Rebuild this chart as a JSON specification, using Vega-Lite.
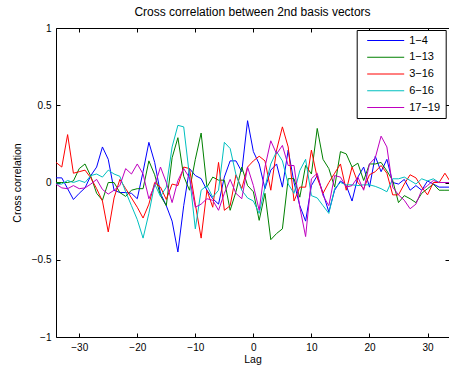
{
"$schema":"https://vega.github.io/schema/vega-lite/v6.json",
"width":393,"height":309,
"autosize":{"type":"none"},
"padding":{"left":56,"top":28,"right":0,"bottom":33},
"background":"white",
"title":{"text":"Cross correlation between 2nd basis vectors","fontSize":12,"font":"Liberation Sans","fontWeight":"normal","color":"black","anchor":"middle","baseline":"alphabetic","offset":10,"dy":14.5},
"config":{
 "view":{"stroke":null},
 "font":"Liberation Sans",
 "axis":{"grid":false,"domainColor":"black","tickColor":"black","labelColor":"black","titleColor":"black","labelFontSize":10,"titleFontSize":10.5,"titleFontWeight":"normal","tickSize":-4,"domainWidth":1,"tickWidth":1,"labelFont":"Liberation Sans","titleFont":"Liberation Sans"},
 "legend":{"orient":"none","legendX":300.7,"legendY":2,"strokeColor":"black","fillColor":"white","padding":5,"symbolType":"M0,0H9.25","symbolSize":64,"symbolStrokeWidth":1,"labelOffset":36.5,"labelFontSize":11,"labelFont":"Liberation Sans","labelColor":"black","rowPadding":4.75,"title":null}
},
"data":{"values":[
{"lag":-34,"s":"1−4","v":0.03},{"lag":-33,"s":"1−4","v":0.03},{"lag":-32,"s":"1−4","v":-0.04},{"lag":-31,"s":"1−4","v":-0.11},{"lag":-30,"s":"1−4","v":-0.07},{"lag":-29,"s":"1−4","v":-0.035},{"lag":-28,"s":"1−4","v":0.045},{"lag":-27,"s":"1−4","v":0.1},{"lag":-26,"s":"1−4","v":0.23},{"lag":-25,"s":"1−4","v":0.15},{"lag":-24,"s":"1−4","v":-0.05},{"lag":-23,"s":"1−4","v":-0.065},
{"lag":-22,"s":"1−4","v":-0.065},{"lag":-21,"s":"1−4","v":-0.07},{"lag":-20,"s":"1−4","v":-0.105},{"lag":-19,"s":"1−4","v":0.07},{"lag":-18,"s":"1−4","v":0.26},{"lag":-17,"s":"1−4","v":0.13},{"lag":-16,"s":"1−4","v":-0.07},{"lag":-15,"s":"1−4","v":-0.15},{"lag":-14,"s":"1−4","v":-0.25},{"lag":-13,"s":"1−4","v":-0.45},{"lag":-12,"s":"1−4","v":-0.15},{"lag":-11,"s":"1−4","v":0.09},
{"lag":-10,"s":"1−4","v":0.045},{"lag":-9,"s":"1−4","v":0.025},{"lag":-8,"s":"1−4","v":-0.05},{"lag":-7,"s":"1−4","v":-0.105},{"lag":-6,"s":"1−4","v":-0.14},{"lag":-5,"s":"1−4","v":0.035},{"lag":-4,"s":"1−4","v":0.14},{"lag":-3,"s":"1−4","v":0.14},{"lag":-2,"s":"1−4","v":0.07},{"lag":-1,"s":"1−4","v":0.4},
{"lag":0,"s":"1−4","v":0.2},{"lag":1,"s":"1−4","v":0.12},{"lag":2,"s":"1−4","v":-0.04},{"lag":3,"s":"1−4","v":0.08},{"lag":4,"s":"1−4","v":0.12},{"lag":5,"s":"1−4","v":-0.03},{"lag":6,"s":"1−4","v":0.21},{"lag":7,"s":"1−4","v":0.0},{"lag":8,"s":"1−4","v":-0.15},{"lag":9,"s":"1−4","v":-0.25},{"lag":10,"s":"1−4","v":-0.02},{"lag":11,"s":"1−4","v":0.045},
{"lag":12,"s":"1−4","v":-0.07},{"lag":13,"s":"1−4","v":-0.19},{"lag":14,"s":"1−4","v":-0.05},{"lag":15,"s":"1−4","v":0.01},{"lag":16,"s":"1−4","v":-0.02},{"lag":17,"s":"1−4","v":-0.12},{"lag":18,"s":"1−4","v":0.035},{"lag":19,"s":"1−4","v":0.1},{"lag":20,"s":"1−4","v":-0.03},{"lag":21,"s":"1−4","v":0.17},{"lag":22,"s":"1−4","v":0.07},{"lag":23,"s":"1−4","v":0.15},
{"lag":24,"s":"1−4","v":0.0},{"lag":25,"s":"1−4","v":-0.01},{"lag":26,"s":"1−4","v":0.02},{"lag":27,"s":"1−4","v":-0.05},{"lag":28,"s":"1−4","v":-0.02},{"lag":29,"s":"1−4","v":-0.05},{"lag":30,"s":"1−4","v":0.01},{"lag":31,"s":"1−4","v":-0.01},{"lag":32,"s":"1−4","v":-0.03},{"lag":33,"s":"1−4","v":-0.03},{"lag":34,"s":"1−4","v":-0.03},

{"lag":-34,"s":"1−13","v":0.0},{"lag":-33,"s":"1−13","v":0.0},{"lag":-32,"s":"1−13","v":0.0},{"lag":-31,"s":"1−13","v":0.01},{"lag":-30,"s":"1−13","v":0.09},{"lag":-29,"s":"1−13","v":0.12},{"lag":-28,"s":"1−13","v":0.04},{"lag":-27,"s":"1−13","v":-0.07},{"lag":-26,"s":"1−13","v":-0.115},{"lag":-25,"s":"1−13","v":0.0},{"lag":-24,"s":"1−13","v":0.0},{"lag":-23,"s":"1−13","v":-0.065},
{"lag":-22,"s":"1−13","v":-0.09},{"lag":-21,"s":"1−13","v":-0.05},{"lag":-20,"s":"1−13","v":-0.04},{"lag":-19,"s":"1−13","v":-0.04},{"lag":-18,"s":"1−13","v":0.14},{"lag":-17,"s":"1−13","v":0.05},{"lag":-16,"s":"1−13","v":-0.085},{"lag":-15,"s":"1−13","v":-0.15},{"lag":-14,"s":"1−13","v":0.16},{"lag":-13,"s":"1−13","v":0.29},{"lag":-12,"s":"1−13","v":0.04},{"lag":-11,"s":"1−13","v":-0.05},
{"lag":-10,"s":"1−13","v":0.15},{"lag":-9,"s":"1−13","v":0.32},{"lag":-8,"s":"1−13","v":-0.03},{"lag":-7,"s":"1−13","v":0.035},{"lag":-6,"s":"1−13","v":0.015},{"lag":-5,"s":"1−13","v":0.015},{"lag":-4,"s":"1−13","v":-0.18},{"lag":-3,"s":"1−13","v":-0.06},{"lag":-2,"s":"1−13","v":0.1},{"lag":-1,"s":"1−13","v":-0.02},
{"lag":0,"s":"1−13","v":-0.06},{"lag":1,"s":"1−13","v":-0.245},{"lag":2,"s":"1−13","v":-0.07},{"lag":3,"s":"1−13","v":-0.37},{"lag":4,"s":"1−13","v":-0.33},{"lag":5,"s":"1−13","v":-0.3},{"lag":6,"s":"1−13","v":0.025},{"lag":7,"s":"1−13","v":0.025},{"lag":8,"s":"1−13","v":-0.095},{"lag":9,"s":"1−13","v":0.11},{"lag":10,"s":"1−13","v":0.055},{"lag":11,"s":"1−13","v":0.35},
{"lag":12,"s":"1−13","v":0.15},{"lag":13,"s":"1−13","v":0.09},{"lag":14,"s":"1−13","v":-0.03},{"lag":15,"s":"1−13","v":0.2},{"lag":16,"s":"1−13","v":0.185},{"lag":17,"s":"1−13","v":0.1},{"lag":18,"s":"1−13","v":0.125},{"lag":19,"s":"1−13","v":0.013},{"lag":20,"s":"1−13","v":0.12},{"lag":21,"s":"1−13","v":0.12},{"lag":22,"s":"1−13","v":0.13},{"lag":23,"s":"1−13","v":0.075},
{"lag":24,"s":"1−13","v":0.013},{"lag":25,"s":"1−13","v":-0.13},{"lag":26,"s":"1−13","v":-0.085},{"lag":27,"s":"1−13","v":-0.105},{"lag":28,"s":"1−13","v":-0.13},{"lag":29,"s":"1−13","v":-0.07},{"lag":30,"s":"1−13","v":-0.04},{"lag":31,"s":"1−13","v":-0.01},{"lag":32,"s":"1−13","v":-0.05},{"lag":33,"s":"1−13","v":-0.05},{"lag":34,"s":"1−13","v":-0.05},

{"lag":-34,"s":"3−16","v":0.13},{"lag":-33,"s":"3−16","v":0.1},{"lag":-32,"s":"3−16","v":0.31},{"lag":-31,"s":"3−16","v":0.06},{"lag":-30,"s":"3−16","v":0.07},{"lag":-29,"s":"3−16","v":0.08},{"lag":-28,"s":"3−16","v":0.03},{"lag":-27,"s":"3−16","v":-0.04},{"lag":-26,"s":"3−16","v":-0.12},{"lag":-25,"s":"3−16","v":-0.32},{"lag":-24,"s":"3−16","v":-0.1},{"lag":-23,"s":"3−16","v":0.02},
{"lag":-22,"s":"3−16","v":-0.04},{"lag":-21,"s":"3−16","v":-0.1},{"lag":-20,"s":"3−16","v":-0.16},{"lag":-19,"s":"3−16","v":-0.23},{"lag":-18,"s":"3−16","v":-0.14},{"lag":-17,"s":"3−16","v":0.0},{"lag":-16,"s":"3−16","v":-0.03},{"lag":-15,"s":"3−16","v":-0.11},{"lag":-14,"s":"3−16","v":-0.01},{"lag":-13,"s":"3−16","v":-0.02},{"lag":-12,"s":"3−16","v":0.1},{"lag":-11,"s":"3−16","v":0.09},
{"lag":-10,"s":"3−16","v":-0.14},{"lag":-9,"s":"3−16","v":-0.36},{"lag":-8,"s":"3−16","v":-0.05},{"lag":-7,"s":"3−16","v":-0.16},{"lag":-6,"s":"3−16","v":0.13},{"lag":-5,"s":"3−16","v":-0.18},{"lag":-4,"s":"3−16","v":-0.15},{"lag":-3,"s":"3−16","v":0.05},{"lag":-2,"s":"3−16","v":-0.04},{"lag":-1,"s":"3−16","v":0.1},
{"lag":0,"s":"3−16","v":0.14},{"lag":1,"s":"3−16","v":0.17},{"lag":2,"s":"3−16","v":0.14},{"lag":3,"s":"3−16","v":-0.05},{"lag":4,"s":"3−16","v":0.21},{"lag":5,"s":"3−16","v":0.36},{"lag":6,"s":"3−16","v":0.23},{"lag":7,"s":"3−16","v":-0.12},{"lag":8,"s":"3−16","v":-0.03},{"lag":9,"s":"3−16","v":-0.03},{"lag":10,"s":"3−16","v":0.21},{"lag":11,"s":"3−16","v":0.03},
{"lag":12,"s":"3−16","v":-0.07},{"lag":13,"s":"3−16","v":0.0},{"lag":14,"s":"3−16","v":0.06},{"lag":15,"s":"3−16","v":0.12},{"lag":16,"s":"3−16","v":-0.05},{"lag":17,"s":"3−16","v":0.1},{"lag":18,"s":"3−16","v":0.0},{"lag":19,"s":"3−16","v":-0.04},{"lag":20,"s":"3−16","v":0.05},{"lag":21,"s":"3−16","v":0.07},{"lag":22,"s":"3−16","v":0.11},{"lag":23,"s":"3−16","v":0.06},
{"lag":24,"s":"3−16","v":-0.08},{"lag":25,"s":"3−16","v":-0.08},{"lag":26,"s":"3−16","v":-0.01},{"lag":27,"s":"3−16","v":0.05},{"lag":28,"s":"3−16","v":0.03},{"lag":29,"s":"3−16","v":-0.03},{"lag":30,"s":"3−16","v":-0.08},{"lag":31,"s":"3−16","v":0.0},{"lag":32,"s":"3−16","v":0.0},{"lag":33,"s":"3−16","v":0.06},{"lag":34,"s":"3−16","v":0.0},

{"lag":-34,"s":"6−16","v":-0.01},{"lag":-33,"s":"6−16","v":-0.01},{"lag":-32,"s":"6−16","v":0.013},{"lag":-31,"s":"6−16","v":0.0},{"lag":-30,"s":"6−16","v":0.013},{"lag":-29,"s":"6−16","v":0.0},{"lag":-28,"s":"6−16","v":0.045},{"lag":-27,"s":"6−16","v":0.055},{"lag":-26,"s":"6−16","v":0.035},{"lag":-25,"s":"6−16","v":0.08},{"lag":-24,"s":"6−16","v":0.055},{"lag":-23,"s":"6−16","v":0.04},
{"lag":-22,"s":"6−16","v":-0.06},{"lag":-21,"s":"6−16","v":-0.15},{"lag":-20,"s":"6−16","v":-0.24},{"lag":-19,"s":"6−16","v":-0.36},{"lag":-18,"s":"6−16","v":-0.2},{"lag":-17,"s":"6−16","v":-0.01},{"lag":-16,"s":"6−16","v":-0.09},{"lag":-15,"s":"6−16","v":-0.03},{"lag":-14,"s":"6−16","v":0.23},{"lag":-13,"s":"6−16","v":0.37},{"lag":-12,"s":"6−16","v":0.36},{"lag":-11,"s":"6−16","v":0.04},
{"lag":-10,"s":"6−16","v":-0.3},{"lag":-9,"s":"6−16","v":-0.05},{"lag":-8,"s":"6−16","v":-0.02},{"lag":-7,"s":"6−16","v":-0.095},{"lag":-6,"s":"6−16","v":-0.05},{"lag":-5,"s":"6−16","v":0.26},{"lag":-4,"s":"6−16","v":0.22},{"lag":-3,"s":"6−16","v":0.05},{"lag":-2,"s":"6−16","v":-0.05},{"lag":-1,"s":"6−16","v":-0.1},
{"lag":0,"s":"6−16","v":-0.12},{"lag":1,"s":"6−16","v":-0.2},{"lag":2,"s":"6−16","v":-0.03},{"lag":3,"s":"6−16","v":0.12},{"lag":4,"s":"6−16","v":0.2},{"lag":5,"s":"6−16","v":0.14},{"lag":6,"s":"6−16","v":-0.01},{"lag":7,"s":"6−16","v":-0.07},{"lag":8,"s":"6−16","v":0.077},{"lag":9,"s":"6−16","v":0.15},{"lag":10,"s":"6−16","v":-0.085},{"lag":11,"s":"6−16","v":-0.1},
{"lag":12,"s":"6−16","v":-0.15},{"lag":13,"s":"6−16","v":-0.2},{"lag":14,"s":"6−16","v":-0.04},{"lag":15,"s":"6−16","v":0.0},{"lag":16,"s":"6−16","v":-0.015},{"lag":17,"s":"6−16","v":-0.015},{"lag":18,"s":"6−16","v":-0.02},{"lag":19,"s":"6−16","v":-0.015},{"lag":20,"s":"6−16","v":-0.015},{"lag":21,"s":"6−16","v":-0.025},{"lag":22,"s":"6−16","v":-0.04},{"lag":23,"s":"6−16","v":-0.06},
{"lag":24,"s":"6−16","v":0.024},{"lag":25,"s":"6−16","v":0.024},{"lag":26,"s":"6−16","v":0.035},{"lag":27,"s":"6−16","v":0.013},{"lag":28,"s":"6−16","v":-0.01},{"lag":29,"s":"6−16","v":0.024},{"lag":30,"s":"6−16","v":0.01},{"lag":31,"s":"6−16","v":0.024},{"lag":32,"s":"6−16","v":0.0},{"lag":33,"s":"6−16","v":0.0},{"lag":34,"s":"6−16","v":0.0},

{"lag":-34,"s":"17−19","v":-0.01},{"lag":-33,"s":"17−19","v":-0.035},{"lag":-32,"s":"17−19","v":-0.04},{"lag":-31,"s":"17−19","v":-0.02},{"lag":-30,"s":"17−19","v":-0.04},{"lag":-29,"s":"17−19","v":-0.035},{"lag":-28,"s":"17−19","v":-0.01},{"lag":-27,"s":"17−19","v":0.02},{"lag":-26,"s":"17−19","v":-0.045},{"lag":-25,"s":"17−19","v":-0.075},{"lag":-24,"s":"17−19","v":-0.05},{"lag":-23,"s":"17−19","v":-0.02},
{"lag":-22,"s":"17−19","v":0.09},{"lag":-21,"s":"17−19","v":0.055},{"lag":-20,"s":"17−19","v":0.12},{"lag":-19,"s":"17−19","v":0.055},{"lag":-18,"s":"17−19","v":-0.105},{"lag":-17,"s":"17−19","v":-0.02},{"lag":-16,"s":"17−19","v":0.1},{"lag":-15,"s":"17−19","v":0.0},{"lag":-14,"s":"17−19","v":-0.13},{"lag":-13,"s":"17−19","v":0.013},{"lag":-12,"s":"17−19","v":0.09},{"lag":-11,"s":"17−19","v":0.03},
{"lag":-10,"s":"17−19","v":-0.16},{"lag":-9,"s":"17−19","v":-0.14},{"lag":-8,"s":"17−19","v":-0.105},{"lag":-7,"s":"17−19","v":-0.115},{"lag":-6,"s":"17−19","v":-0.18},{"lag":-5,"s":"17−19","v":-0.07},{"lag":-4,"s":"17−19","v":0.02},{"lag":-3,"s":"17−19","v":-0.07},{"lag":-2,"s":"17−19","v":-0.105},{"lag":-1,"s":"17−19","v":0.1},
{"lag":0,"s":"17−19","v":-0.02},{"lag":1,"s":"17−19","v":-0.18},{"lag":2,"s":"17−19","v":0.1},{"lag":3,"s":"17−19","v":0.27},{"lag":4,"s":"17−19","v":0.185},{"lag":5,"s":"17−19","v":0.24},{"lag":6,"s":"17−19","v":0.11},{"lag":7,"s":"17−19","v":0.11},{"lag":8,"s":"17−19","v":-0.16},{"lag":9,"s":"17−19","v":-0.35},{"lag":10,"s":"17−19","v":0.024},{"lag":11,"s":"17−19","v":0.06},
{"lag":12,"s":"17−19","v":-0.085},{"lag":13,"s":"17−19","v":-0.15},{"lag":14,"s":"17−19","v":0.045},{"lag":15,"s":"17−19","v":0.035},{"lag":16,"s":"17−19","v":-0.03},{"lag":17,"s":"17−19","v":-0.02},{"lag":18,"s":"17−19","v":0.035},{"lag":19,"s":"17−19","v":-0.05},{"lag":20,"s":"17−19","v":0.12},{"lag":21,"s":"17−19","v":0.16},{"lag":22,"s":"17−19","v":0.3},{"lag":23,"s":"17−19","v":0.23},
{"lag":24,"s":"17−19","v":-0.03},{"lag":25,"s":"17−19","v":-0.08},{"lag":26,"s":"17−19","v":-0.115},{"lag":27,"s":"17−19","v":-0.17},{"lag":28,"s":"17−19","v":-0.14},{"lag":29,"s":"17−19","v":-0.05},{"lag":30,"s":"17−19","v":-0.02},{"lag":31,"s":"17−19","v":0.013},{"lag":32,"s":"17−19","v":0.0},{"lag":33,"s":"17−19","v":0.0},{"lag":34,"s":"17−19","v":0.0}
]},
"layer":[
 {"mark":{"type":"line","clip":true,"strokeWidth":1},
  "encoding":{
   "x":{"field":"lag","type":"quantitative","scale":{"domain":[-34,33.7],"nice":false,"zero":false},
        "axis":{"orient":"bottom","values":[-30,-20,-10,0,10,20,30],"format":"d","title":"Lag","labelPadding":9,"titlePadding":2}},
   "y":{"field":"v","type":"quantitative","scale":{"domain":[-1,1],"nice":false,"zero":false},
        "axis":{"orient":"left","values":[-1,-0.5,0,0.5,1],"format":"~g","title":"Cross correlation","labelPadding":9,"titlePadding":9}},
   "color":{"field":"s","type":"nominal","sort":["1−4","1−13","3−16","6−16","17−19"],
        "scale":{"domain":["1−4","1−13","3−16","6−16","17−19"],"range":["#0000ff","#008000","#ff0000","#00bfbf","#bf00bf"]}}
  }},
 {"mark":{"type":"line","strokeOpacity":0},
  "encoding":{
   "x":{"field":"lag","type":"quantitative","axis":{"orient":"top","values":[-30,-20,-10,0,10,20,30],"labels":false,"title":null}},
   "y":{"field":"v","type":"quantitative","axis":{"orient":"right","values":[-1,-0.5,0,0.5,1],"labels":false,"domain":false,"title":null}}
  }}
],
"resolve":{"axis":{"x":"independent","y":"independent"}}
}
